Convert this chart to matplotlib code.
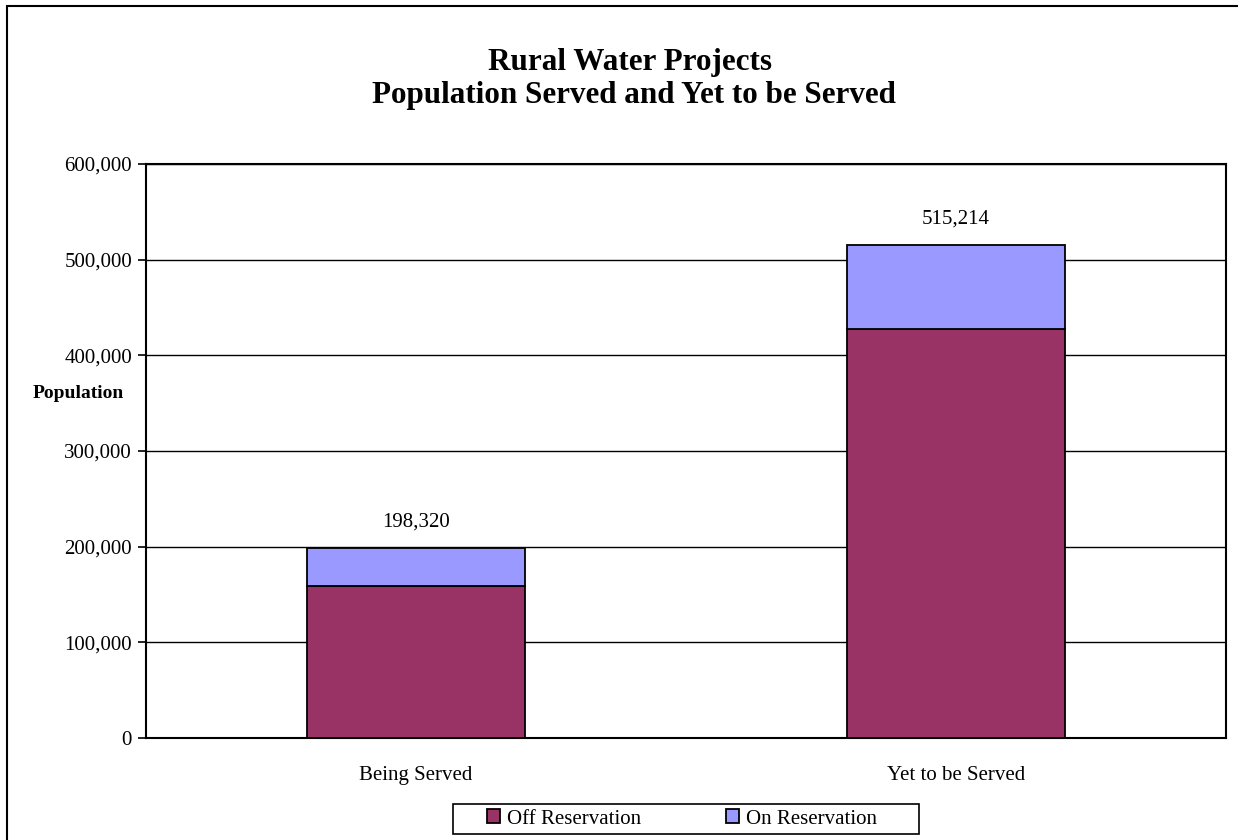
import matplotlib
matplotlib.use("Agg")
import matplotlib.pyplot as plt
from matplotlib.patches import Rectangle
from matplotlib.ticker import FuncFormatter

categories = ["Being Served", "Yet to be Served"]
off_reservation = [159200, 427200]
on_reservation = [39120, 88014]
totals = [198320, 515214]
series_names = ["Off Reservation", "On Reservation"]

W, H = 1238, 840
plt.rcParams["font.family"] = ["Liberation Serif", "DejaVu Serif"]
fig = plt.figure(figsize=(W / 100, H / 100), dpi=100)

# outer chart frame
fig.patches.append(Rectangle((7 / W, 0 - 0.01), 1.02, 1 - 6 / H + 0.01,
                             transform=fig.transFigure, fill=False,
                             edgecolor="black", linewidth=1.5, zorder=0))

ax = fig.add_axes([146 / W, 1 - 738 / H, (1226 - 146) / W, (738 - 164) / H])
x = list(range(len(categories)))
bw = 0.404
ax.bar(x, off_reservation, width=bw, color="#993366", edgecolor="black",
       linewidth=1.3, label=series_names[0], zorder=3)
ax.bar(x, on_reservation, width=bw, bottom=off_reservation, color="#9999FF",
       edgecolor="black", linewidth=1.3, label=series_names[1], zorder=3)

for xi, t in zip(x, totals):
    ax.text(xi, t + 17000, f"{t:,}", ha="center", va="bottom", fontsize=15)

ax.set_xlim(-0.5, 1.5)
ax.set_ylim(0, 600000)
ax.set_yticks(range(0, 600001, 100000))
ax.yaxis.set_major_formatter(FuncFormatter(lambda v, p: f"{int(v):,}"))
ax.set_xticks(x)
ax.set_xticklabels(categories)
ax.tick_params(axis="x", length=0, pad=20, labelsize=15)
ax.tick_params(axis="y", direction="out", length=6, width=1.2, pad=4, labelsize=15)
ax.grid(axis="y", color="black", linewidth=1, zorder=0)
for s in ax.spines.values():
    s.set_linewidth(1.5)
    s.set_color("black")

fig.text(78 / W, 1 - 394 / H, "Population", ha="center", va="center",
         fontsize=14, fontweight="bold")
fig.text(630 / W, 1 - 70 / H, "Rural Water Projects",
         ha="center", va="baseline", fontsize=22.4, fontweight="bold")
fig.text(634 / W, 1 - 103 / H, "Population Served and Yet to be Served",
         ha="center", va="baseline", fontsize=22.4, fontweight="bold")

# legend frame drawn separately (wide horizontal padding)
fig.patches.append(Rectangle((453 / W, 1 - 834 / H), (919 - 453) / W, 30 / H,
                             transform=fig.transFigure, fill=True, facecolor="white",
                             edgecolor="black", linewidth=1.2, zorder=1))
leg = fig.legend(loc="center", bbox_to_anchor=(682 / W, 1 - 819 / H), ncol=2,
                 frameon=False, fontsize=15,
                 handlelength=0.63, handleheight=0.63, handletextpad=0.33,
                 columnspacing=4.1, borderpad=0.0)
leg.set_zorder(2)

fig.savefig("out.png", dpi=100)
